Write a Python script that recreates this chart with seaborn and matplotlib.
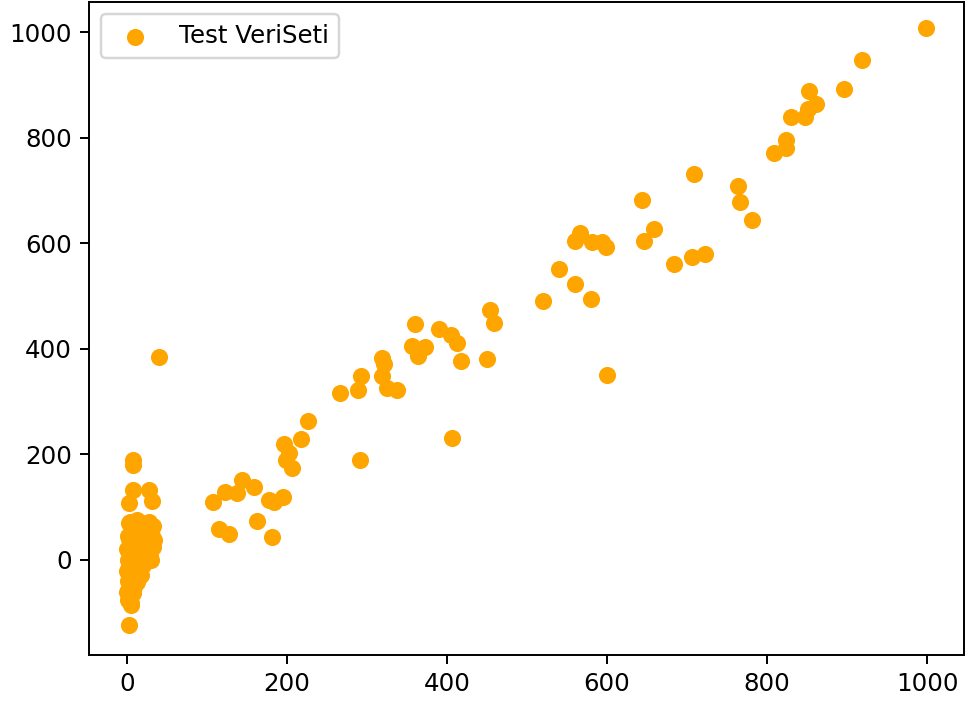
import matplotlib
matplotlib.use("Agg")
import matplotlib.pyplot as plt
import seaborn as sns
import pandas as pd

# actual (x) and predicted (y) values
actual = [
    999, 919, 896, 852, 861, 851, 847, 830, 824, 824, 808, 709, 764, 766, 781,
    644, 566, 560, 581, 594, 598, 658, 646, 722, 706, 683, 540, 560, 580, 520, 600,
    454, 459, 450, 266, 289, 293, 319, 321, 319, 325, 338, 360, 356, 364, 373, 390,
    405, 413, 417, 406, 291,
    226, 217, 196, 202, 206, 199, 144, 159, 138, 122, 107, 177, 195, 184, 115, 128,
    162, 181, 40,
    # dense cluster near zero
    7, 8, 7, 28, 31, 3, 5, 3,
    2, 4, 6, 9, 12, 15, 18, 22, 25, 28, 30, 32,
    1, 3, 5, 8, 11, 14, 17, 20, 24, 27, 31, 34,
    0, 2, 4, 7, 10, 13, 16, 19, 23, 26, 29, 33,
    1, 3, 6, 9, 12, 15, 18, 21, 25, 30,
    0, 2, 4, 6, 8, 11, 14, 17, 20,
    1, 3, 5, 7, 9, 12, 15,
    0, 2, 4, 6, 8, 10,
    1, 3, 5, 7,
]
predicted = [
    1008, 947, 893, 889, 863, 855, 840, 840, 796, 781, 771, 731, 708, 678, 644,
    682, 619, 604, 602, 602, 592, 627, 604, 579, 573, 560, 552, 522, 495, 490, 350,
    474, 448, 381, 316, 322, 348, 383, 371, 348, 326, 322, 447, 406, 387, 403, 438,
    427, 411, 377, 232, 190,
    263, 230, 219, 203, 175, 190, 152, 139, 127, 128, 110, 114, 120, 110, 59, 50,
    73, 44, 385,
    # dense cluster near zero
    190, 180, 133, 133, 111, 108, -82, -124,
    70, 72, 65, 68, 75, 62, 70, 66, 58, 72, 60, 64,
    45, 40, 50, 38, 44, 52, 35, 48, 40, 30, 45, 38,
    20, 15, 25, 18, 12, 22, 10, 28, 15, 20, 8, 25,
    0, -5, 5, -10, 2, -3, 8, -2, 4, 0,
    -20, -15, -25, -12, -30, -18, -22, -28, -10,
    -40, -35, -45, -38, -50, -42, -32,
    -60, -55, -65, -50, -58, -45,
    -75, -70, -85, -62,
]
series_label = "Test VeriSeti"
x_ticks = [0, 200, 400, 600, 800, 1000]
y_ticks = [0, 200, 400, 600, 800, 1000]

df = pd.DataFrame({"actual": actual, "predicted": predicted})

dpi = 176
fig, ax = plt.subplots(figsize=(966 / dpi, 704 / dpi), dpi=dpi)
fig.subplots_adjust(left=89 / 966, right=964 / 966, top=1 - 2 / 704, bottom=1 - 655 / 704)

sns.scatterplot(data=df, x="actual", y="predicted", color="orange", s=49,
                linewidth=0, label=series_label, ax=ax)

ax.set_xlim(-47.5, 1046)
ax.set_ylim(-180, 1057)
ax.set_xticks(x_ticks)
ax.set_yticks(y_ticks)
ax.set_xlabel("")
ax.set_ylabel("")
ax.legend(loc="upper left")

fig.savefig("out.png", dpi=dpi)
